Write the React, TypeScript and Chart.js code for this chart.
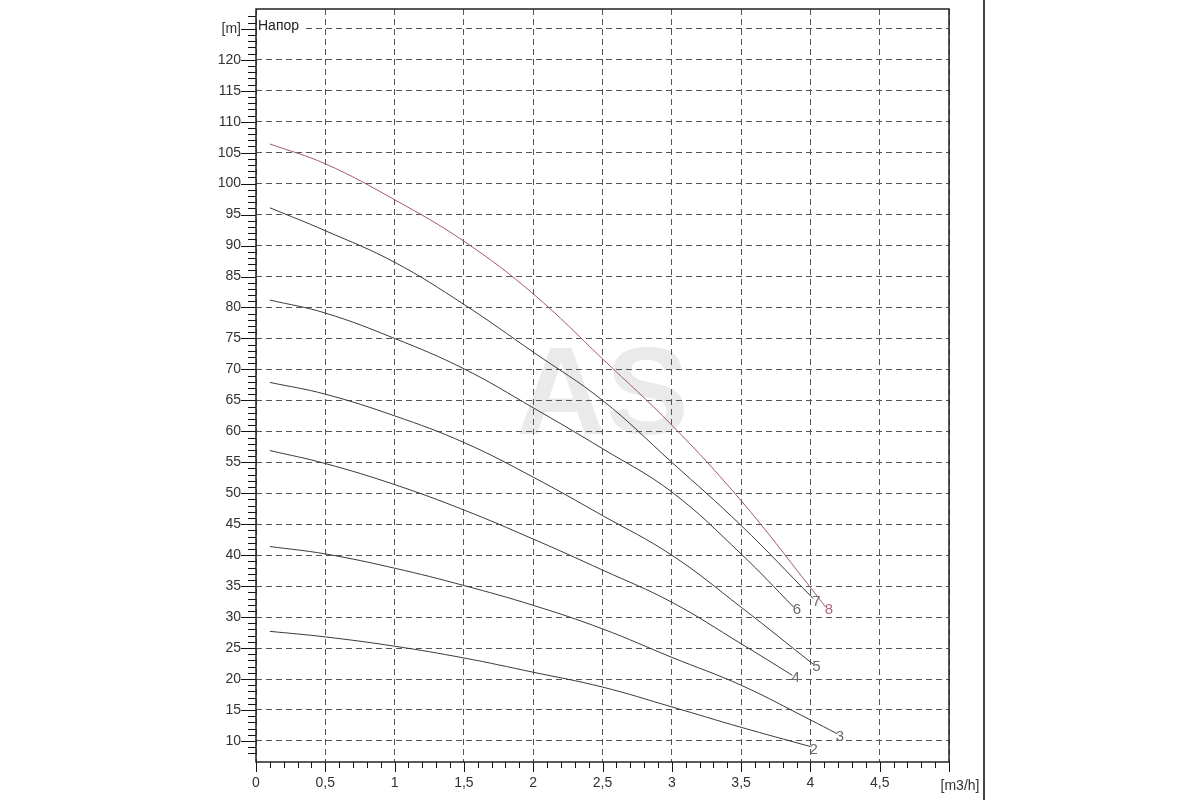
import { useEffect, useRef } from 'react';
import { Chart, registerables } from 'chart.js';

Chart.register(...registerables);

// pump stages (curve labels)
const stageNames = ['2', '3', '4', '5', '6', '7', '8'];

// flow [m3/h] and head [m] per stage
const flow2 = [0.1, 0.5, 1, 1.5, 2, 2.5, 3, 3.5, 4];
const head2 = [27.7, 26.8, 25.3, 23.4, 21.1, 18.7, 15.5, 12.2, 9.1];

const flow3 = [0.1, 0.5, 1, 1.5, 2, 2.5, 3, 3.5, 4, 4.19];
const head3 = [41.4, 40.2, 37.9, 35.1, 31.9, 28.1, 23.5, 19.0, 13.4, 11.2];

const flow4 = [0.1, 0.5, 1, 1.5, 2, 2.5, 3, 3.5, 3.87];
const head4 = [56.9, 54.8, 51.4, 47.3, 42.6, 37.6, 32.4, 25.7, 20.6];

const flow5 = [0.1, 0.5, 1, 1.5, 2, 2.5, 3, 3.5, 4.02];
const head5 = [67.9, 66.0, 62.5, 58.2, 52.6, 46.4, 40.0, 31.6, 22.4];

const flow6 = [0.1, 0.5, 1, 1.5, 2, 2.5, 3, 3.5, 3.88];
const head6 = [81.2, 79.1, 75.0, 70.1, 63.8, 57.2, 50.2, 40.2, 31.6];

const flow7 = [0.1, 0.5, 1, 1.5, 2, 2.5, 3, 3.5, 4.02];
const head7 = [96.1, 92.4, 87.3, 80.5, 72.8, 65.0, 55.0, 44.8, 33.0];

const flow8 = [0.1, 0.5, 1, 1.5, 2, 2.5, 3, 3.5, 4, 4.11];
const head8 = [106.4, 103.2, 97.4, 90.7, 82.2, 71.7, 61.0, 48.8, 34.8, 31.6];

const flows = [flow2, flow3, flow4, flow5, flow6, flow7, flow8];
const heads = [head2, head3, head4, head5, head6, head7, head8];

const FONT = '"Liberation Sans", Arial, sans-serif';
const LINE = '#3a3a3a';
const RED = '#a45a68';

const isStep = (v: number, step: number) => Math.abs(v / step - Math.round(v / step)) < 1e-6;
const fmt = (v: number) => String(Number(v.toFixed(1))).replace('.', ',');

const decor = {
  id: 'decor',
  beforeDraw(chart: any) {
    const { ctx, chartArea } = chart;
    ctx.save();
    ctx.fillStyle = '#fff';
    ctx.fillRect(0, 0, chart.width, chart.height);
    // watermark
    ctx.fillStyle = '#eaeaea';
    ctx.font = 'bold 124px ' + FONT;
    ctx.textAlign = 'center';
    ctx.textBaseline = 'middle';
    ctx.fillText('AS', (chartArea.left + chartArea.right) / 2, 400);
    ctx.restore();
  },
  afterDatasetsDraw(chart: any) {
    const { ctx } = chart;
    ctx.save();
    ctx.font = '15px ' + FONT;
    ctx.textAlign = 'left';
    ctx.textBaseline = 'middle';
    chart.data.datasets.forEach((ds: any, i: number) => {
      const pts = chart.getDatasetMeta(i).data;
      const last = pts[pts.length - 1];
      ctx.fillStyle = i === 6 ? '#b06a76' : '#6a6a6a';
      ctx.fillText(ds.label, last.x - 1, last.y + 3);
    });
    ctx.restore();
  },
  afterDraw(chart: any) {
    const { ctx, chartArea } = chart;
    const { left, right, top, bottom } = chartArea;
    const xs = chart.scales.x;
    const ys = chart.scales.y;
    ctx.save();
    ctx.setLineDash([]);
    ctx.strokeStyle = '#111';
    ctx.lineWidth = 1;
    // minor / major ticks
    ctx.beginPath();
    ys.ticks.forEach((t: any) => {
      if (!isStep(t.value, 1)) return;
      const y = Math.round(ys.getPixelForValue(t.value)) + 0.5;
      const len = isStep(t.value, 5) ? 15 : 8;
      ctx.moveTo(left - len, y);
      ctx.lineTo(left, y);
    });
    xs.ticks.forEach((t: any) => {
      if (!isStep(t.value, 0.1)) return;
      const x = Math.round(xs.getPixelForValue(t.value)) + 0.5;
      const len = isStep(t.value, 0.5) ? 10 : 6;
      ctx.moveTo(x, bottom);
      ctx.lineTo(x, bottom + len);
    });
    ctx.stroke();
    // frame
    ctx.lineWidth = 1.5;
    ctx.strokeStyle = '#222';
    ctx.strokeRect(left, top, right - left, bottom - top);
    // inner caption
    ctx.font = '14px ' + FONT;
    ctx.textBaseline = 'middle';
    ctx.textAlign = 'left';
    const w = ctx.measureText('Напор').width;
    ctx.fillStyle = '#fff';
    ctx.fillRect(left + 1, 18, w + 6, 16);
    ctx.fillStyle = '#222';
    ctx.fillText('Напор', left + 2, 26);
    // x unit
    ctx.fillStyle = '#333';
    ctx.textAlign = 'center';
    ctx.fillText('[m3/h]', right + 11, 786);
    // page edge
    ctx.fillStyle = '#444';
    ctx.fillRect(983, 0, 2, chart.height);
    ctx.restore();
  },
};

export default function App() {
  const canvasRef = useRef<HTMLCanvasElement>(null);
  const chartRef = useRef<Chart | null>(null);

  useEffect(() => {
    if (!canvasRef.current) return;
    if (chartRef.current) chartRef.current.destroy();

    const datasets = stageNames.map((name, i) => ({
      label: name,
      data: flows[i].map((q, k) => ({ x: q, y: heads[i][k] })),
      borderColor: i === 6 ? RED : LINE,
      borderWidth: 1,
      pointRadius: 0,
      fill: false,
      tension: 0.4,
    }));

    chartRef.current = new Chart(canvasRef.current, {
      type: 'line',
      data: { datasets },
      plugins: [decor],
      options: {
        animation: false,
        responsive: true,
        maintainAspectRatio: false,
        layout: { padding: { top: 9, right: 251, left: 0, bottom: 0 } },
        plugins: {
          legend: { display: false },
          tooltip: { enabled: false },
        },
        scales: {
          x: {
            type: 'linear',
            min: 0,
            max: 5,
            afterFit: (s: any) => {
              s.height = 38;
              s.paddingLeft = 0;
              s.paddingRight = 0;
            },
            border: { display: false, dash: [6, 4] },
            grid: {
              drawTicks: false,
              lineWidth: 1,
              color: (c: any) => (c.tick && isStep(c.tick.value, 0.5) ? '#555' : 'rgba(0,0,0,0)'),
            },
            ticks: {
              stepSize: 0.1,
              autoSkip: false,
              maxRotation: 0,
              padding: 13,
              color: '#333',
              font: { family: FONT, size: 14 },
              callback: (v: any) => (isStep(v, 0.5) && v < 4.99 ? fmt(v) : ''),
            },
          },
          y: {
            type: 'linear',
            min: 6.6,
            max: 128.2,
            afterFit: (s: any) => {
              s.width = 256;
              s.paddingTop = 0;
              s.paddingBottom = 0;
            },
            border: { display: false, dash: [6, 4] },
            grid: {
              drawTicks: false,
              lineWidth: 1,
              color: (c: any) => (c.tick && isStep(c.tick.value, 5) ? '#555' : 'rgba(0,0,0,0)'),
            },
            ticks: {
              stepSize: 1,
              autoSkip: false,
              padding: 15,
              color: '#333',
              font: { family: FONT, size: 14 },
              callback: (v: any) => {
                if (Math.abs(v - 125) < 1e-6) return '[m]';
                return isStep(v, 5) && v >= 10 && v <= 120 ? String(Math.round(v)) : '';
              },
            },
          },
        },
      },
    });

    return () => {
      if (chartRef.current) {
        chartRef.current.destroy();
        chartRef.current = null;
      }
    };
  }, []);

  return (
    <div style={{ position: 'fixed', left: 0, top: 0, width: 1200, height: 800, background: '#fff' }}>
      <canvas ref={canvasRef} />
    </div>
  );
}
